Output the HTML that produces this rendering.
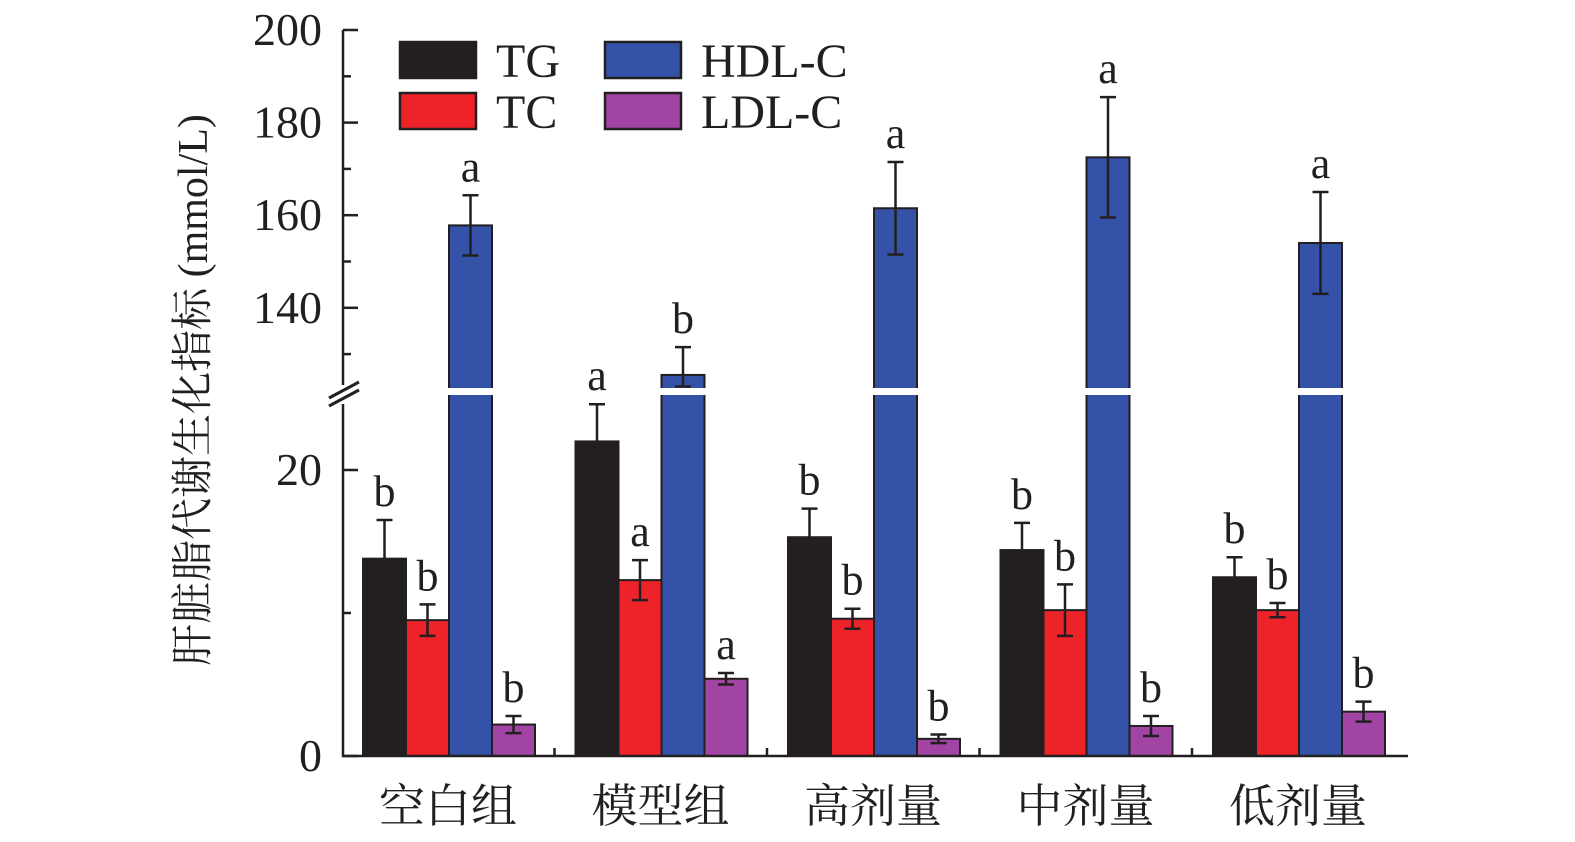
<!DOCTYPE html>
<html><head><meta charset="utf-8"><style>
body{margin:0;background:#fff;}
svg{display:block;}
text{font-family:"Liberation Serif","Noto Serif CJK SC",serif;}
</style></head><body>
<svg id="chart" width="1575" height="842" viewBox="0 0 1575 842"></svg>
<script>
const groups=["空白组","模型组","高剂量","中剂量","低剂量"];
const series=["TG","TC","HDL-C","LDL-C"];
const colors=["#231f20","#ee2229","#3452a8","#a244a4"];
const tgVals=[13.8,22.0,15.3,14.4,12.5];
const tgErr=[2.7,2.6,2.0,1.9,1.4];
const tcVals=[9.5,12.3,9.6,10.2,10.2];
const tcErr=[1.1,1.4,0.7,1.8,0.5];
const hdlVals=[157.8,125.5,161.5,172.5,154.0];
const hdlErr=[6.5,6.0,10.0,13.0,11.0];
const ldlVals=[2.2,5.4,1.2,2.1,3.1];
const ldlErr=[0.6,0.4,0.3,0.7,0.7];
const letters=[["b","a","b","b","b"],["b","a","b","b","b"],["a","b","a","a","a"],["b","a","b","b","b"]];
const upperTicks=[140,160,180,200];
const lowerTicks=[0,20];

const NS="http://www.w3.org/2000/svg";
const svg=document.getElementById("chart");
const SERIF="Liberation Serif, Noto Serif CJK SC, serif";
function el(t,a,p){const e=document.createElementNS(NS,t);for(const k in a)e.setAttribute(k,a[k]);if(t==="text"&&!a["font-family"])e.setAttribute("font-family",SERIF);(p||svg).appendChild(e);return e;}
const X0=343, Ybot=756;
const BREAK_LO=25.5, BREAK_HI=123;
function yLow(v){return 756-v*14.3;}
function yUp(v){return 30+(200-v)*4.63;}
function yv(v){return v<=BREAK_LO?yLow(v):(v>=BREAK_HI?yUp(v):yUp(BREAK_HI));}
const groupW=212.5, barW=43, gStart=363;
function xBar(g,s){return gStart+g*groupW+s*barW;}
const vals=[tgVals,tcVals,hdlVals,ldlVals], errs=[tgErr,tcErr,hdlErr,ldlErr];
const pending=[];

for(let g=0;g<groups.length;g++){
 for(let s=0;s<4;s++){
  const v=vals[s][g], e=errs[s][g], x=xBar(g,s);
  const top=yv(v);
  const r=el("rect",{x:x,y:top,width:barW,height:Ybot-top,fill:colors[s],stroke:"#231f20","stroke-width":2});
  
  
  const cx=x+barW/2, yt=yv(v+e), yb=yv(v-e);
  const eb=el("path",{d:`M${cx} ${yt}V${yb}M${cx-8} ${yt}H${cx+8}M${cx-8} ${yb}H${cx+8}`,stroke:"#231f20","stroke-width":2.5,fill:"none"});
  
  
  pending.push([cx,yt-14,letters[s][g]]);
 }
 const gl=el("text",{x:gStart+g*groupW+85,y:822,"text-anchor":"middle","font-size":46,fill:"#231f20","font-family":"Noto Serif CJK SC, Noto Sans CJK SC, serif"});
 gl.textContent=groups[g];
 
 
 if(g>0){el("line",{x1:gStart+g*groupW-21,y1:Ybot,x2:gStart+g*groupW-21,y2:Ybot-8,stroke:"#231f20","stroke-width":2.5});}
}
el("rect",{x:340,y:388,width:1070,height:7,fill:"#fff"});
for(const [x,y,s] of pending){
 const t=el("text",{x:x,y:y,"text-anchor":"middle","font-size":44,fill:"#231f20"});
 t.textContent=s;
 
 
}
const ax=el("path",{d:`M${X0} 30V385M${X0} 404V${Ybot}H1408`,stroke:"#231f20","stroke-width":2.5,fill:"none"});


el("path",{d:"M329 398L359 382M329 406L359 390",stroke:"#231f20","stroke-width":3,fill:"none"});
for(const v of upperTicks){
 el("line",{x1:X0,x2:X0+15,y1:yUp(v),y2:yUp(v),stroke:"#231f20","stroke-width":2.5});
 el("line",{x1:X0,x2:X0+8,y1:yUp(v-10),y2:yUp(v-10),stroke:"#231f20","stroke-width":2.5});
 const t=el("text",{x:322,y:yUp(v)+15,"text-anchor":"end","font-size":46,fill:"#231f20"});t.textContent=v;
 
 
}
for(const v of lowerTicks){
 el("line",{x1:X0,x2:X0+15,y1:yLow(v),y2:yLow(v),stroke:"#231f20","stroke-width":2.5});
 const t=el("text",{x:322,y:yLow(v)+15,"text-anchor":"end","font-size":46,fill:"#231f20"});t.textContent=v;
 
 
}
el("line",{x1:X0,x2:X0+8,y1:yLow(10),y2:yLow(10),stroke:"#231f20","stroke-width":2.5});
const yt=el("text",{transform:"translate(207,390) rotate(-90)","text-anchor":"middle","font-size":42,fill:"#231f20","font-family":"Liberation Serif, Noto Serif CJK SC, serif"});
yt.textContent="肝脏脂代谢生化指标 (mmol/L)";


const lg=[[400,42,0],[400,93,1],[605,42,2],[605,93,3]];
for(const [x,y,s] of lg){
 const r=el("rect",{x:x,y:y,width:76,height:36,fill:colors[s],stroke:"#231f20","stroke-width":2.5});
 
 
 const t=el("text",{x:x+96,y:y+35,"font-size":48,fill:"#231f20"});t.textContent=series[s];
 
 
}
</script>
</body></html>
